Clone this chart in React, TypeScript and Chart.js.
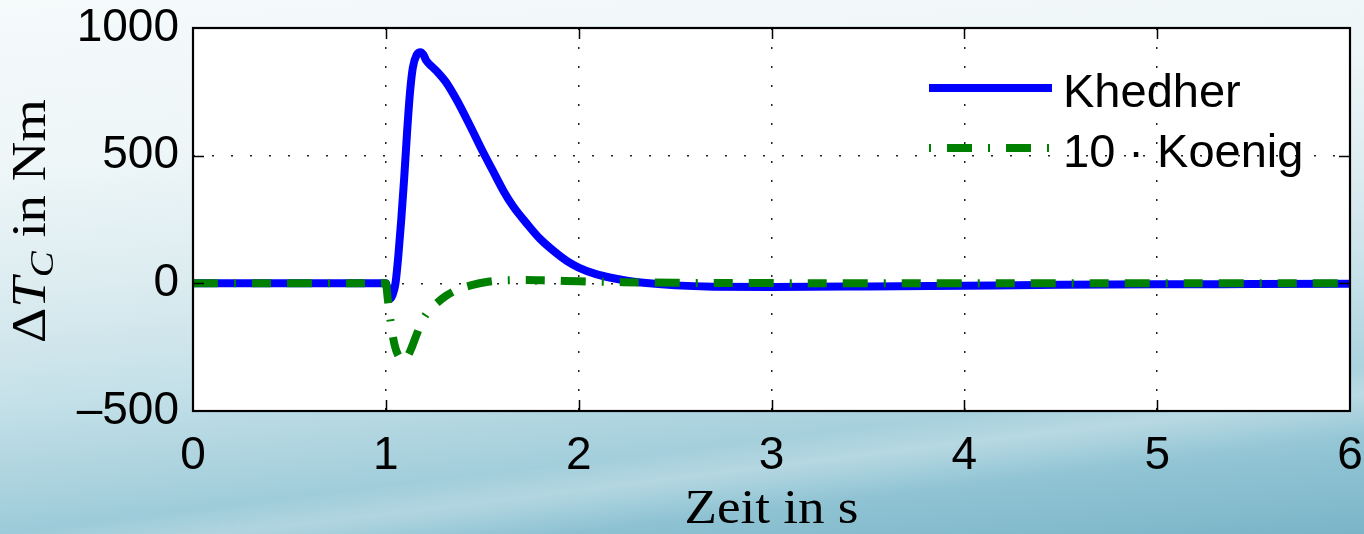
import React, { useEffect, useRef } from "react";
import { Chart, registerables } from "chart.js";

Chart.register(...registerables);

// ---- data ----
const khedherT = [0, 0.5, 1.0, 1.01, 1.022, 1.035, 1.05, 1.065, 1.08, 1.095, 1.11, 1.125, 1.14, 1.16, 1.18, 1.195, 1.21, 1.24, 1.27, 1.31, 1.37, 1.44, 1.5, 1.55, 1.61, 1.66, 1.73, 1.8, 1.87, 1.94, 2.0, 2.09, 2.18, 2.26, 2.35, 2.5, 2.7, 3.0, 3.5, 4.0, 4.5, 5.0, 5.5, 6.0];
const khedherV = [0, 0, 0, -25, -60, -45, 0, 110, 250, 410, 590, 745, 845, 895, 905, 895, 872, 848, 826, 790, 715, 612, 520, 448, 362, 302, 235, 174, 127, 87, 62, 36, 20, 9, 1, -8, -13, -14, -12, -9, -6, -4, -3, -2];

const koenigT = [0, 0.5, 1.0, 1.01, 1.025, 1.045, 1.07, 1.09, 1.11, 1.135, 1.16, 1.19, 1.22, 1.26, 1.31, 1.37, 1.44, 1.53, 1.62, 1.72, 1.85, 2.0, 2.2, 2.5, 3.0, 3.5, 4.0, 5.0, 6.0];
const koenigV = [0, 0, 0, -60, -150, -240, -290, -300, -290, -250, -200, -145, -110, -80, -50, -25, -8, 6, 12, 13, 11, 8, 5, 2, 1, 0, 0, 0, 0];

const seriesLabels = ["Khedher", "10 · Koenig"];
const xTickValues = [0, 1, 2, 3, 4, 5, 6];
const yTickValues = [-500, 0, 500, 1000];
const xTitle = "Zeit in s";
const yTitleParts = [
  { text: "Δ", style: "normal", scale: 1, dy: 0 },
  { text: "T", style: "italic", scale: 1, dy: 0 },
  { text: "C", style: "italic", scale: 0.7, dy: 8 },
  { text: " in Nm", style: "normal", scale: 1, dy: 0 },
];

const SANS = '"Liberation Sans", Arial, sans-serif';
const SERIF = '"Liberation Serif", "Times New Roman", serif';

const decorPlugin = {
  id: "decor",
  beforeDraw(chart: any) {
    const { ctx, chartArea: a } = chart;
    ctx.save();
    ctx.fillStyle = "#ffffff";
    ctx.fillRect(a.left, a.top, a.right - a.left, a.bottom - a.top);
    ctx.restore();
  },
  afterDatasetsDraw(chart: any) {
    const { ctx, chartArea: a } = chart;
    const xs = chart.scales.x;
    const ys = chart.scales.y;
    ctx.save();
    // inward ticks
    ctx.strokeStyle = "#000";
    ctx.lineWidth = 1.5;
    ctx.setLineDash([]);
    const tl = 11;
    xTickValues.forEach((v) => {
      if (v === xTickValues[0] || v === xTickValues[xTickValues.length - 1]) return;
      const px = Math.round(xs.getPixelForValue(v)) + 0.5;
      ctx.beginPath();
      ctx.moveTo(px, a.bottom);
      ctx.lineTo(px, a.bottom - tl);
      ctx.moveTo(px, a.top);
      ctx.lineTo(px, a.top + tl);
      ctx.stroke();
    });
    yTickValues.forEach((v) => {
      if (v === yTickValues[0] || v === yTickValues[yTickValues.length - 1]) return;
      const py = Math.round(ys.getPixelForValue(v)) + 0.5;
      ctx.beginPath();
      ctx.moveTo(a.left, py);
      ctx.lineTo(a.left + tl, py);
      ctx.moveTo(a.right, py);
      ctx.lineTo(a.right - tl, py);
      ctx.stroke();
    });
    // frame
    ctx.lineWidth = 2.2;
    ctx.strokeRect(a.left, a.top, a.right - a.left, a.bottom - a.top);

    // legend
    const ds = chart.data.datasets;
    const blue = ds[1];
    const green = ds[0];
    const lx0 = a.right - 421;
    const lx1 = a.right - 298;
    const tx = a.right - 287;
    ctx.lineCap = "butt";
    ctx.lineWidth = 8;
    ctx.strokeStyle = blue.borderColor;
    ctx.setLineDash([]);
    ctx.beginPath();
    ctx.moveTo(lx0, a.top + 60);
    ctx.lineTo(lx1, a.top + 60);
    ctx.stroke();
    ctx.strokeStyle = green.borderColor;
    ctx.setLineDash([2, 16, 25, 16]);
    ctx.beginPath();
    ctx.moveTo(lx0, a.top + 120);
    ctx.lineTo(lx1 + 2, a.top + 120);
    ctx.stroke();
    ctx.setLineDash([]);
    ctx.fillStyle = "#000";
    ctx.font = `47px ${SANS}`;
    ctx.textAlign = "left";
    ctx.textBaseline = "alphabetic";
    ctx.fillText(blue.label, tx, a.top + 79);
    ctx.fillText(green.label, tx, a.top + 139);

    // x title
    ctx.font = `48px ${SERIF}`;
    const xw = ctx.measureText(xTitle).width;
    const xsx = 174 / xw;
    ctx.save();
    ctx.translate((a.left + a.right) / 2, 523);
    ctx.scale(xsx, 1);
    ctx.textAlign = "center";
    ctx.fillText(xTitle, 0, 0);
    ctx.restore();

    // y title
    const fs = 48;
    const widths = yTitleParts.map((p) => {
      ctx.font = `${p.style} ${Math.round(fs * p.scale)}px ${SERIF}`;
      return ctx.measureText(p.text).width;
    });
    const total = widths.reduce((s, w) => s + w, 0);
    const ysx = 244 / total;
    ctx.save();
    ctx.translate(45, 221);
    ctx.rotate(-Math.PI / 2);
    ctx.scale(ysx, 1);
    ctx.textAlign = "left";
    let cx = -total / 2;
    yTitleParts.forEach((p, i) => {
      ctx.font = `${p.style} ${Math.round(fs * p.scale)}px ${SERIF}`;
      ctx.fillText(p.text, cx, p.dy);
      cx += widths[i];
    });
    ctx.restore();

    ctx.restore();
  },
};

export default function App() {
  const ref = useRef<HTMLCanvasElement | null>(null);

  useEffect(() => {
    if (!ref.current) return;
    const khedher = khedherT.map((t, i) => ({ x: t, y: khedherV[i] }));
    const koenig = koenigT.map((t, i) => ({ x: t, y: koenigV[i] }));
    const edgeX = (v: number) => v === xTickValues[0] || v === xTickValues[xTickValues.length - 1];
    const edgeY = (v: number) => v === yTickValues[0] || v === yTickValues[yTickValues.length - 1];
    const zeroPad = (s: any) => {
      s.paddingTop = 0;
      s.paddingBottom = 0;
      s.paddingLeft = 0;
      s.paddingRight = 0;
    };
    const chart = new Chart(ref.current, {
      type: "line",
      data: {
        datasets: [
          {
            label: seriesLabels[1],
            data: koenig,
            borderColor: "#008000",
            borderWidth: 8,
            borderDash: [25, 16, 2, 16, 19, 16],
            borderCapStyle: "butt",
            pointRadius: 0,
            cubicInterpolationMode: "monotone",
            fill: false,
          },
          {
            label: seriesLabels[0],
            data: khedher,
            borderColor: "#0000ff",
            borderWidth: 8,
            borderJoinStyle: "round",
            pointRadius: 0,
            cubicInterpolationMode: "monotone",
            fill: false,
          },
        ],
      },
      options: {
        responsive: false,
        animation: false,
        devicePixelRatio: 1,
        layout: { padding: { top: 28, right: 14, left: 0, bottom: 0 } },
        plugins: { legend: { display: false }, tooltip: { enabled: false } },
        scales: {
          x: {
            type: "linear",
            min: 0,
            max: 6,
            afterFit: (s: any) => {
              s.height = 123;
              zeroPad(s);
            },
            afterBuildTicks: (s: any) => {
              s.ticks = xTickValues.map((v) => ({ value: v }));
            },
            ticks: {
              color: "#000",
              font: { family: SANS, size: 46 },
              padding: 18,
              maxRotation: 0,
            },
            grid: {
              drawTicks: false,
              lineWidth: 1.5,
              color: (c: any) => (edgeX(c.tick?.value) ? "rgba(0,0,0,0)" : "#222"),
            },
            border: { display: false, dash: [2, 17] },
          },
          y: {
            min: -500,
            max: 1000,
            afterFit: (s: any) => {
              s.width = 193;
              zeroPad(s);
            },
            afterBuildTicks: (s: any) => {
              s.ticks = yTickValues.map((v) => ({ value: v }));
            },
            ticks: {
              color: "#000",
              font: { family: SANS, size: 46 },
              padding: 14,
              callback: (v: any) => (Number(v) < 0 ? "–" + Math.abs(Number(v)) : String(v)),
            },
            grid: {
              drawTicks: false,
              lineWidth: 1.5,
              color: (c: any) => (edgeY(c.tick?.value) ? "rgba(0,0,0,0)" : "#222"),
            },
            border: { display: false, dash: [2, 17] },
          },
        },
      },
      plugins: [decorPlugin],
    } as any);
    return () => chart.destroy();
  }, []);

  return (
    <div
      style={{
        position: "absolute",
        left: 0,
        top: 0,
        width: 1364,
        height: 534,
        overflow: "hidden",
        background:
          "linear-gradient(173deg, rgba(255,255,255,0) 76%, rgba(255,255,255,0.25) 80%, rgba(255,255,255,0) 86%), linear-gradient(175deg, #f5fafb 0%, #eef6f8 25%, #dcecf0 45%, #c4e0e8 62%, #a8d1dd 76%, #8fc3d3 88%, #7bb4c8 100%)",
      }}
    >
      <canvas ref={ref} width={1364} height={534} style={{ display: "block" }} />
    </div>
  );
}
